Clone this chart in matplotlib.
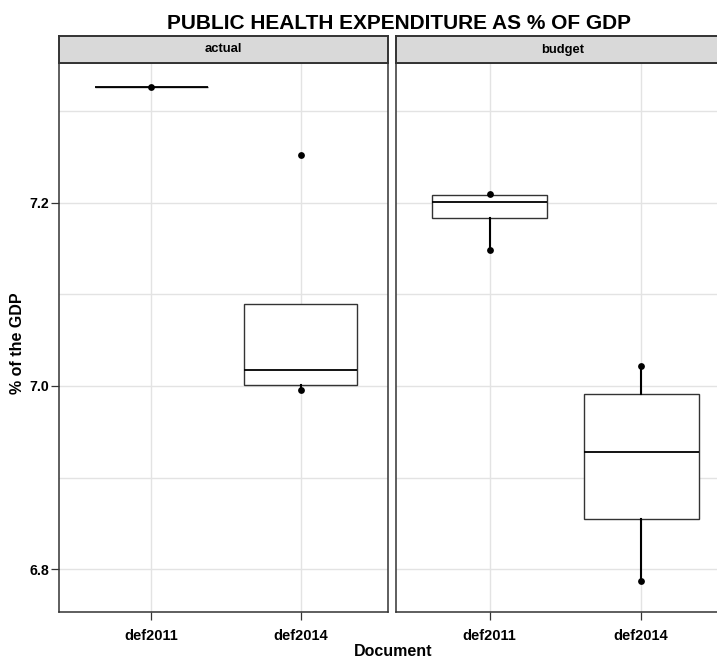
import matplotlib.pyplot as plt
from matplotlib.ticker import MultipleLocator, FormatStrFormatter

plt.rcParams['font.family'] = ['Liberation Sans', 'DejaVu Sans']

documents = ["def2011", "def2014"]
panels = ["actual", "budget"]

# box summaries, one value per document
actual_q1 = [7.326, 7.001]
actual_med = [7.326, 7.017]
actual_q3 = [7.326, 7.089]
actual_lo = [7.326, 6.996]
actual_hi = [7.326, 7.089]
actual_pts = [[7.326], [7.252, 6.996]]

budget_q1 = [7.183, 6.855]
budget_med = [7.201, 6.928]
budget_q3 = [7.208, 6.991]
budget_lo = [7.148, 6.787]
budget_hi = [7.210, 7.022]
budget_pts = [[7.210, 7.148], [7.022, 6.787]]

summaries = {
    "actual": (actual_q1, actual_med, actual_q3, actual_lo, actual_hi, actual_pts),
    "budget": (budget_q1, budget_med, budget_q3, budget_lo, budget_hi, budget_pts),
}

W, H = 717, 659
fig = plt.figure(figsize=(W / 100, H / 100), dpi=100)


def px_rect(x0, y0, x1, y1):
    return [x0 / W, 1 - y1 / H, (x1 - x0) / W, (y1 - y0) / H]


panel_x = {"actual": (59, 388), "budget": (396, 729.6)}
top, bottom, strip_top = 63, 612.3, 36
edge = "#333333"
grid_c = "#E3E3E3"

for i, name in enumerate(panels):
    x0, x1 = panel_x[name]
    ax = fig.add_axes(px_rect(x0, top, x1, bottom))
    q1, med, q3, lo, hi, pts = summaries[name]

    stats = [dict(q1=q1[k], med=med[k], q3=q3[k], whislo=lo[k], whishi=hi[k],
                  fliers=[]) for k in range(len(documents))]
    ax.bxp(stats, positions=[1, 2], widths=0.76, patch_artist=True,
           showcaps=False, showfliers=False,
           boxprops=dict(facecolor="white", edgecolor=edge, linewidth=1.0),
           medianprops=dict(color="black", linewidth=1.3),
           whiskerprops=dict(color="black", linewidth=1.5),
           zorder=3)
    for k, vals in enumerate(pts):
        ax.scatter([k + 1] * len(vals), vals, s=24, color="black", zorder=4,
                   linewidths=0)

    ax.set_xlim(0.381, 2.585)
    ax.set_ylim(6.7531, 7.3524)
    ax.set_xticks([1, 2])
    ax.set_xticklabels(documents, fontsize=10.5, fontweight="bold")
    ax.yaxis.set_major_locator(MultipleLocator(0.2))
    ax.yaxis.set_minor_locator(MultipleLocator(0.1))
    ax.yaxis.set_major_formatter(FormatStrFormatter("%.1f"))
    ax.grid(True, which="both", color=grid_c, linewidth=1.0, zorder=0)
    ax.set_axisbelow(True)
    ax.tick_params(axis="x", length=6, width=0.9, color=edge, pad=6)
    ax.tick_params(axis="y", which="minor", length=0)
    if i == 0:
        ax.tick_params(axis="y", which="major", length=6, width=0.9,
                       color=edge, pad=1, labelsize=10.2)
        for lab in ax.get_yticklabels():
            lab.set_fontweight("bold")
    else:
        ax.tick_params(axis="y", which="major", length=0, labelleft=False)
    for sp in ax.spines.values():
        sp.set_color(edge)
        sp.set_linewidth(1.1)

    # facet strip
    sax = fig.add_axes(px_rect(x0, strip_top, x1, top))
    sax.set_facecolor("#D9D9D9")
    sax.set_xticks([])
    sax.set_yticks([])
    for sp in sax.spines.values():
        sp.set_color(edge)
        sp.set_linewidth(1.4)
    sax.text(0.5, 0.5, name, transform=sax.transAxes, ha="center",
             va="center", fontsize=9.4, fontweight="bold")

fig.text(399 / W, 1 - 29 / H, "PUBLIC HEALTH EXPENDITURE AS % OF GDP",
         ha="center", va="baseline", fontsize=15, fontweight="bold")
fig.text(393 / W, 1 - 656 / H, "Document", ha="center", va="baseline",
         fontsize=11.5, fontweight="bold")
fig.text(17.5 / W, 1 - 343 / H, "% of the GDP", ha="center", va="center",
         rotation=90, fontsize=11.5, fontweight="bold")

fig.savefig("out.png", dpi=100)
